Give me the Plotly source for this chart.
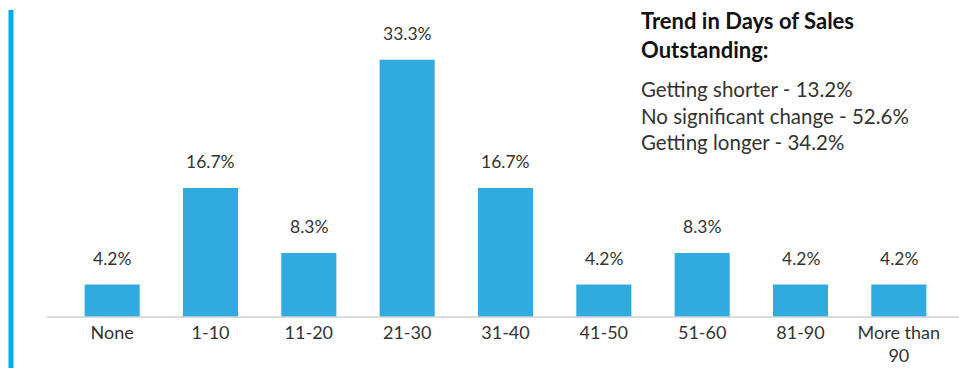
import plotly.graph_objects as go

categories = ["None", "1-10", "11-20", "21-30", "31-40", "41-50", "51-60", "81-90", "More than<br>90"]
values = [4.2, 16.7, 8.3, 33.3, 16.7, 4.2, 8.3, 4.2, 4.2]
trend_title = "Trend in Days of Sales<br>Outstanding:"
trend_labels = ["Getting shorter", "No significant change", "Getting longer"]
trend_values = [13.2, 52.6, 34.2]

W, H = 959, 368
FONT = "Lato, 'Open Sans', sans-serif"
TXT = "#333333"

fig = go.Figure()
fig.add_trace(go.Bar(x=categories, y=values, marker=dict(color="#31AAE0", line=dict(width=0)),
                     hoverinfo="skip"))

for c, v in zip(categories, values):
    fig.add_annotation(x=c, y=v, text=f"{v:.1f}%", showarrow=False, yanchor="bottom",
                       yshift=14, font=dict(size=17.5, color=TXT, family=FONT))

ml, mr, mt, mb = 63, 11, 8, 51
pw = W - ml - mr
ph = H - mt - mb

def px_x(x):
    return (x - ml) / pw

def px_y(y):
    return (H - mb - y) / ph

# right side text block
fig.add_annotation(xref="paper", yref="paper", x=px_x(639), y=px_y(5), xanchor="left", yanchor="top",
                   text=f"<b>{trend_title}</b>", showarrow=False, align="left",
                   font=dict(size=22, color="#111111", family=FONT))
body = "<br>".join(f"{l} - {v:.1f}%" for l, v in zip(trend_labels, trend_values))
fig.add_annotation(xref="paper", yref="paper", x=px_x(639), y=px_y(75), xanchor="left", yanchor="top",
                   text=body, showarrow=False, align="left",
                   font=dict(size=20.5, color=TXT, family=FONT))

# baseline axis line
fig.add_shape(type="line", xref="paper", yref="paper", x0=px_x(47), x1=px_x(959), y0=0, y1=0,
              line=dict(color="#D0D0D0", width=1.5))
# left accent bar
fig.add_shape(type="line", xref="paper", yref="paper", x0=px_x(11), x1=px_x(11), y0=px_y(10), y1=px_y(368),
              line=dict(color="#00AEEF", width=5))

fig.update_layout(
    width=W, height=H,
    margin=dict(l=ml, r=mr, t=mt, b=mb, autoexpand=False),
    paper_bgcolor="white", plot_bgcolor="white",
    bargap=0.44,
    showlegend=False,
    hovermode=False,
    xaxis=dict(showline=False, showgrid=False, zeroline=False, ticks="", automargin=False,
               ticklabelstandoff=3,
               tickfont=dict(size=18, color=TXT, family=FONT)),
    yaxis=dict(range=[0, 40], visible=False, showgrid=False, zeroline=False, automargin=False),
)

fig.write_html("out.html", config={"displayModeBar": False},
               post_script="document.body.style.margin='0px';")
